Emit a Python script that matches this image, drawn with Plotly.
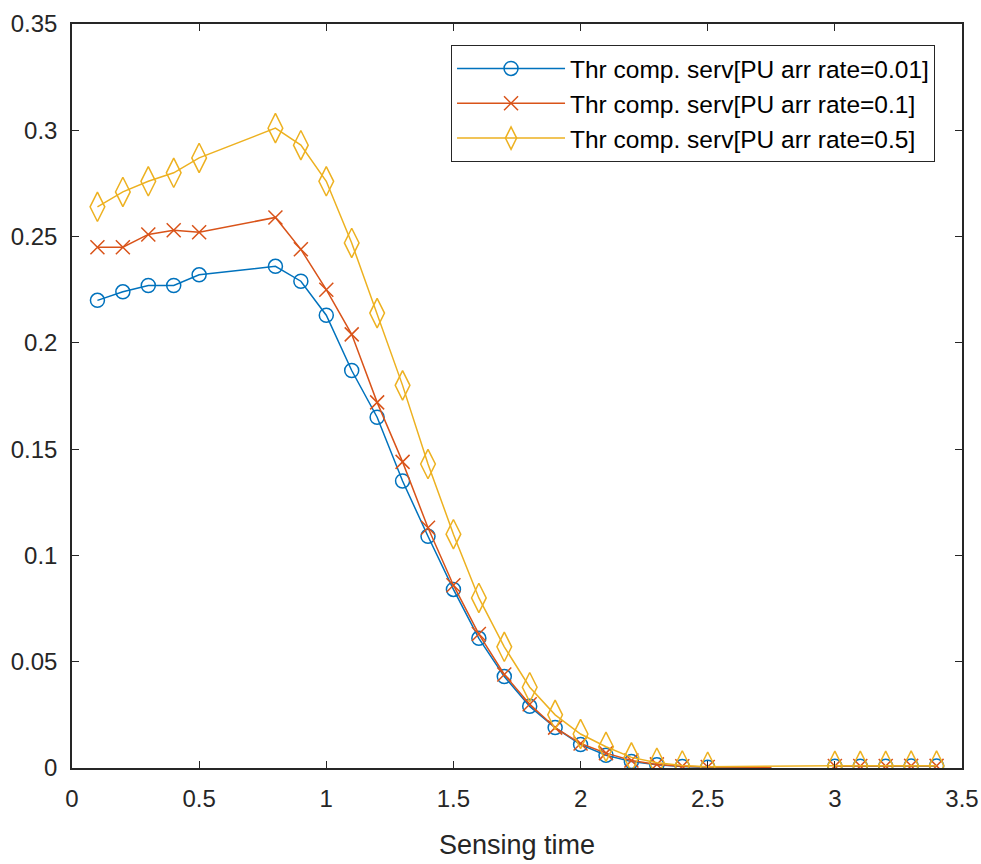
import plotly.graph_objects as go

sensing_time = [0.1, 0.2, 0.3, 0.4, 0.5, 0.8, 0.9, 1.0, 1.1, 1.2, 1.3, 1.4, 1.5, 1.6,
                1.7, 1.8, 1.9, 2.0, 2.1, 2.2, 2.3, 2.4, 2.5, None, 3.0, 3.1, 3.2, 3.3, 3.4]

thr_001 = [0.220, 0.224, 0.227, 0.227, 0.232, 0.236, 0.229, 0.213, 0.187, 0.165, 0.135, 0.109,
           0.084, 0.061, 0.043, 0.029, 0.019, 0.011, 0.006, 0.003, 0.0015, 0.0007, 0.0004, None,
           0.0008, 0.0008, 0.0008, 0.0009, 0.0009]
thr_01 = [0.245, 0.245, 0.251, 0.253, 0.252, 0.259, 0.244, 0.225, 0.204, 0.172, 0.144, 0.113,
          0.086, 0.063, 0.044, 0.030, 0.019, 0.0115, 0.007, 0.0035, 0.0017, 0.0008, 0.0005, None,
          0.0009, 0.0009, 0.0009, 0.0010, 0.0010]
thr_05 = [0.264, 0.271, 0.276, 0.280, 0.287, 0.301, 0.293, 0.276, 0.247, 0.214, 0.180, 0.143,
          0.110, 0.080, 0.057, 0.038, 0.025, 0.016, 0.010, 0.005, 0.0025, 0.0012, 0.0006, 0.0005,
          0.0010, 0.0010, 0.0010, 0.0011, 0.0011]

# marker-less tail segment of the first two series (from 2.5 to 2.75)
tail_time = [2.5, 2.75]
tail_001 = [0.0004, 0.0002]
tail_01 = [0.0005, 0.0003]

names = ["Thr comp. serv[PU arr rate=0.01]",
         "Thr comp. serv[PU arr rate=0.1]",
         "Thr comp. serv[PU arr rate=0.5]"]
colors = ["#0072BD", "#D95319", "#EDB120"]
symbols = ["circle-open", "x-thin-open", "diamond-tall-open"]
sizes = [14, 14, 21]

# yellow series connects 2.5 -> 3.0 continuously
x_yellow = [v for v in sensing_time if v is not None]
y_yellow = [v for v, t in zip(thr_05, sensing_time) if t is not None]

FONT = "Liberation Sans, Arial"

fig = go.Figure()
for xs, ys, c in [(tail_time, tail_001, colors[0]), (tail_time, tail_01, colors[1])]:
    fig.add_trace(go.Scatter(x=xs, y=ys, mode="lines", line=dict(color=c, width=1.5),
                             showlegend=False, hoverinfo="skip"))

series = [(sensing_time, thr_001), (sensing_time, thr_01), (x_yellow, y_yellow)]
for i, (xs, ys) in enumerate(series):
    fig.add_trace(go.Scatter(
        x=xs, y=ys, name=names[i], mode="lines+markers",
        connectgaps=False,
        line=dict(color=colors[i], width=1.5),
        marker=dict(symbol=symbols[i], size=sizes[i], color=colors[i],
                    line=dict(color=colors[i], width=1.5)),
    ))

axis_common = dict(
    showline=True, linecolor="#262626", linewidth=1.5, mirror="ticks",
    ticks="inside", ticklen=7, tickcolor="#262626", tickwidth=1,
    showgrid=False, zeroline=False, automargin=False,
    tickfont=dict(family=FONT, size=24, color="#262626"),
)

fig.update_xaxes(range=[0, 3.5], tickvals=[0, 0.5, 1, 1.5, 2, 2.5, 3, 3.5],
                 ticktext=["0", "0.5", "1", "1.5", "2", "2.5", "3", "3.5"],
                 ticklabelstandoff=8,
                 title=dict(text="Sensing time", font=dict(family=FONT, size=27, color="#262626"),
                            standoff=25),
                 **axis_common)
fig.update_yaxes(range=[0, 0.35], tickvals=[0, 0.05, 0.1, 0.15, 0.2, 0.25, 0.3, 0.35],
                 ticktext=["0", "0.05", "0.1", "0.15", "0.2", "0.25", "0.3", "0.35"],
                 ticklabelstandoff=8,
                 **axis_common)

fig.update_layout(
    width=981, height=864,
    margin=dict(l=72, r=19, t=24, b=96),
    paper_bgcolor="white", plot_bgcolor="white",
    font=dict(family=FONT, color="#262626"),
    legend=dict(x=0.9697, y=0.9718, xanchor="right", yanchor="top",
                bgcolor="white", bordercolor="#262626", borderwidth=1,
                font=dict(family=FONT, size=24.5, color="#000000"),
                itemwidth=108, tracegroupgap=0),
)

fig.write_html("out.html",
               config={"displayModeBar": False},
               post_script="document.body.style.margin='0';document.body.style.overflow='hidden';")
